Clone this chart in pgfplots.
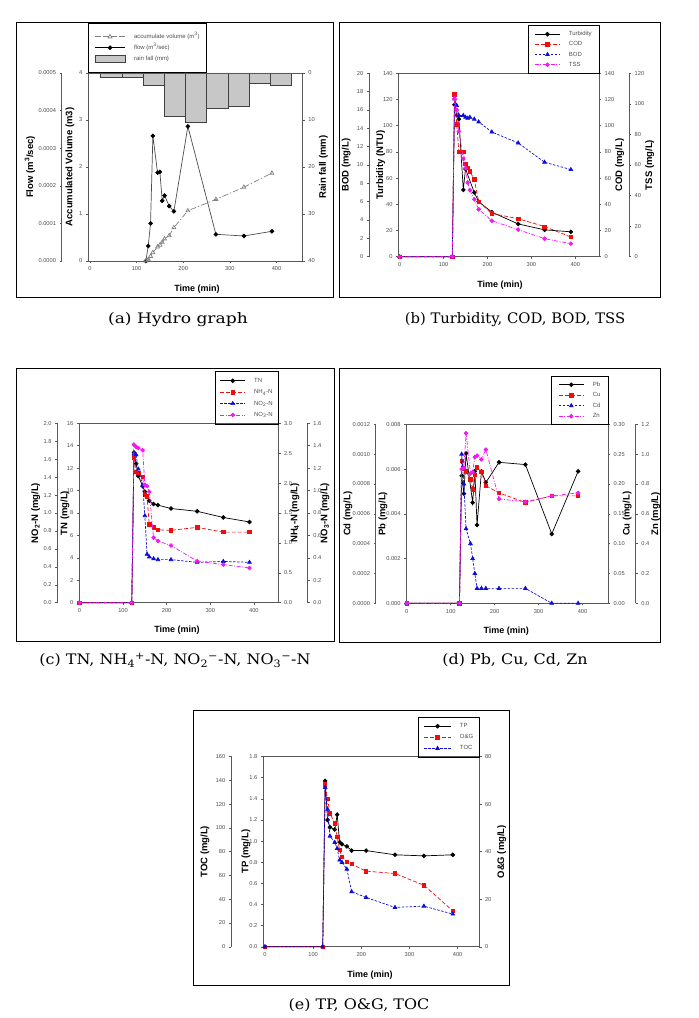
\documentclass[border=0pt]{standalone}
\usepackage{pgfplots}
\pgfplotsset{compat=1.18}
\usepackage{fontspec}
\setmainfont{Liberation Sans}
\newfontfamily\capfont{DejaVu Serif}
\definecolor{axc}{gray}{0.35}
\definecolor{tlc}{gray}{0.3}
\definecolor{mblue}{rgb}{0.05,0.05,0.85}
\definecolor{mred}{rgb}{0.95,0.05,0.05}
\definecolor{mmag}{rgb}{0.95,0.1,0.95}
\definecolor{barg}{gray}{0.78}
\pgfplotsset{
 base/.style={scale only axis, anchor=south west, clip=false,
   tick align=outside, major tick length=2.2pt,
   every tick/.style={axc, line width=0.5pt},
   axis line style={axc, line width=0.6pt},
   tick label style={font=\fontsize{5.7}{6.5}\selectfont, text=tlc},
   /pgf/number format/assume math mode=true,
   scaled ticks=false},
 mainax/.style={base, xtick pos=left, ytick pos=left, xtick={0,100,200,300,400}},
 over/.style={base, hide axis},
 farleft/.style={base, width=10pt, xmin=0, xmax=1, axis x line=none, axis y line*=left, xtick=\empty},
 farright/.style={base, anchor=south east, width=10pt, xmin=0, xmax=1, axis x line=none, axis y line*=right, xtick=\empty},
 rightax/.style={base, axis x line=none, axis y line*=right, xtick=\empty},
 sblack/.style={black, line width=0.7pt, mark=*, mark size=1.9pt},
 sred/.style={mred, line width=0.7pt, dash pattern=on 4pt off 2pt, mark=square*, mark size=1.7pt, mark options={solid}},
 sblue/.style={mblue, line width=0.7pt, dash pattern=on 2.5pt off 1.5pt, mark=triangle*, mark size=2.1pt, mark options={solid}},
 smag/.style={mmag, line width=0.7pt, dash pattern=on 4pt off 1.5pt on 1pt off 1.5pt, mark=*, mark size=1.9pt, mark options={solid}},
 legax/.style={over, ymin=0, ymax=1, legend cell align=left,
   legend style={font=\fontsize{6}{7}\selectfont, text=tlc, draw=none, fill=none,
     anchor=center, inner xsep=0pt, inner ysep=0pt, row sep=#1,
     nodes={inner sep=0.6pt, text height=4.4pt, text depth=1.3pt},
     /tikz/every odd column/.append style={column sep=8pt}},
   legend image code/.code={\draw[mark repeat=2,mark phase=2,##1] plot coordinates {(0pt,0pt)(12.5pt,0pt)(25pt,0pt)};}},
 pa/.style={at={(88pt,757pt)}, width=214.7pt, height=188pt, xmin=-4, xmax=456},
 pb/.style={at={(398.3pt,761.3pt)}, width=200.7pt, height=183.4pt, xmin=-3, xmax=454},
 pc/.style={at={(79pt,415.3pt)}, width=199.3pt, height=179.4pt, xmin=-1, xmax=456},
 pd/.style={at={(406.3pt,414.7pt)}, width=201.7pt, height=179pt, xmin=-1, xmax=458},
 pe/.style={at={(263pt,71.2pt)}, width=216.3pt, height=190.3pt, xmin=-4, xmax=445},
}
\tikzset{
 ylab/.style={font=\fontsize{9.5}{11}\selectfont\bfseries, rotate=90},
 xlab/.style={font=\fontsize{9}{11}\selectfont\bfseries},
 mycap/.style={font=\capfont\fontsize{14.5}{16}\selectfont},
 frm/.style={black, line width=0.8pt},
 lbox/.style={black, line width=0.6pt},
}
\begin{document}
\begin{tikzpicture}
\path[use as bounding box] (0pt,0pt) rectangle (699pt,1018pt);
% ================= (a) =================
\draw[frm] (16pt,721pt) rectangle (333pt,995.3pt);
\begin{axis}[rightax, pa, ymin=0, ymax=40, y dir=reverse, ytick={0,10,20,30,40}]
\addplot[ybar, bar width=45.5, fill=barg, draw=black!75, line width=0.5pt] coordinates {(46,1.0)(91.5,1.0)(137,2.7)(182,9.1)(227.5,10.5)(273,7.5)(318.5,7.1)(364,2.1)(409.5,2.7)};
\end{axis}
\begin{axis}[farleft, at={(61.7pt,757pt)}, height=188pt, ymin=0, ymax=0.0005, ytick={0,0.0001,0.0002,0.0003,0.0004,0.0005}, yticklabels={0.0000,0.0001,0.0002,0.0003,0.0004,0.0005}]
\end{axis}
\begin{axis}[over, pa, ymin=0, ymax=0.0005]
\addplot[gray!60!black, line width=0.7pt, mark=*, mark size=1.9pt, mark options={black}] coordinates {(120,0)(125,0.00004)(130,0.0001)(135,0.000333)(145,0.000235)(150,0.000237)(155,0.00016)(160,0.000174)(170,0.000146)(180,0.000132)(210,0.000358)(270,0.000071)(330,0.0000665)(390,0.000079)};
\end{axis}
\begin{axis}[mainax, pa, ymin=0, ymax=4, ytick={0,1,2,3,4}]
\addplot[gray, line width=0.7pt, dash pattern=on 6pt off 2pt on 1.5pt off 2pt, mark=triangle, mark size=2.3pt, mark options={solid, gray}] coordinates {(120,0)(125,0.03)(130,0.1)(135,0.18)(145,0.3)(150,0.34)(155,0.4)(160,0.47)(170,0.54)(180,0.71)(210,1.07)(270,1.31)(330,1.57)(390,1.87)};
\end{axis}
\draw[lbox] (88.3pt,945.3pt) rectangle (206.7pt,994.7pt);
\begin{axis}[legax=4pt, pa, legend style={at={(0.277,1.133)}},
  legend image code/.code={\draw[mark repeat=2,mark phase=2,#1] plot coordinates {(0pt,0pt)(15pt,0pt)(30pt,0pt)};}]
\addlegendimage{gray, line width=0.7pt, dash pattern=on 6pt off 2pt, mark=triangle, mark size=2.3pt, mark options={solid}}
\addlegendentry{accumulate volume (m\textsuperscript{3})}
\addlegendimage{black, line width=0.7pt, mark=*, mark size=1.9pt}
\addlegendentry{flow (m\textsuperscript{3}/sec)}
\addlegendimage{legend image code/.code={\draw[fill=barg, draw=black!75, line width=0.5pt] (0pt,-3.5pt) rectangle (30pt,3.5pt);}}
\addlegendentry{rain fall (mm)}
\end{axis}
\node[ylab] at (30pt,851pt) {Flow (m\textsuperscript{3}/sec)};
\node[ylab] at (70pt,851pt) {Accumulated Volume (m3)};
\node[ylab] at (323.3pt,851pt) {Rain fall (mm)};
\node[xlab] at (197pt,729pt) {Time (min)};
\node[mycap, xscale=1.18] at (178pt,698pt) {(a) Hydro graph};
% ================= (b) =================
\draw[frm] (339pt,721pt) rectangle (660pt,995.3pt);
\begin{axis}[mainax, pb, ymin=0, ymax=140, ytick={0,20,...,140}]
\addplot[sblack] coordinates {(0,0)(120,0)(125,116)(130,108)(135,105)(145,51)(150,67)(170,49)(180,42)(210,34)(270,25)(330,20.5)(390,19)};
\end{axis}
\begin{axis}[rightax, pb, ymin=0, ymax=140, ytick={0,20,...,140}]
\addplot[sred] coordinates {(0,0)(120,0)(125,124)(130,101)(135,80)(145,80)(150,71)(155,68)(160,65)(170,59)(180,42)(210,33)(270,29)(330,23)(390,15)};
\end{axis}
\begin{axis}[over, pb, ymin=0, ymax=20]
\addplot[sblue] coordinates {(0,0)(120,0)(125,17.2)(130,16.5)(135,15.4)(145,15.4)(150,15.2)(155,15.1)(160,15.2)(170,15.0)(180,14.7)(210,13.6)(270,12.4)(330,10.3)(390,9.5)};
\end{axis}
\begin{axis}[over, pb, ymin=0, ymax=120]
\addplot[smag] coordinates {(0,0)(120,0)(125,103.5)(130,96)(135,82)(145,64)(150,58)(155,48.5)(160,43.5)(170,37.5)(180,31)(210,23.5)(270,17.7)(330,11.8)(390,8.5)};
\end{axis}
\begin{axis}[farleft, at={(369pt,761.3pt)}, height=183.4pt, ymin=0, ymax=20, ytick={0,2,...,20}]
\end{axis}
\begin{axis}[farright, at={(629pt,761.3pt)}, height=183.4pt, ymin=0, ymax=120, ytick={0,20,...,120}]
\end{axis}
\draw[lbox] (528pt,944.7pt) rectangle (599pt,992.3pt);
\begin{axis}[legax=3.3pt, pb, legend style={at={(0.823,1.13)}}]
\addlegendimage{sblack}\addlegendentry{Turbidity}
\addlegendimage{sred}\addlegendentry{COD}
\addlegendimage{sblue}\addlegendentry{BOD}
\addlegendimage{smag}\addlegendentry{TSS}
\end{axis}
\node[ylab] at (346.3pt,853pt) {BOD (mg/L)};
\node[ylab] at (380.7pt,853pt) {Turbidity (NTU)};
\node[ylab] at (619.7pt,853pt) {COD (mg/L)};
\node[ylab] at (649.7pt,853pt) {TSS (mg/L)};
\node[xlab] at (500pt,733pt) {Time (min)};
\node[mycap, xscale=1.02] at (515pt,698pt) {(b) Turbidity, COD, BOD, TSS};
% ================= (c) =================
\draw[frm] (16pt,377pt) rectangle (334pt,650pt);
\begin{axis}[mainax, pc, ymin=0, ymax=16, ytick={0,2,...,16}]
\addplot[sblack] coordinates {(0,0)(120,0)(125,13.4)(130,12.4)(135,11.3)(145,10.4)(150,9.9)(160,9.1)(170,8.8)(180,8.7)(210,8.4)(270,8.15)(330,7.6)(390,7.2)};
\end{axis}
\begin{axis}[rightax, pc, ymin=0, ymax=3, ytick={0,0.5,1,1.5,2,2.5,3}, yticklabels={0.0,0.5,1.0,1.5,2.0,2.5,3.0}]
\addplot[sred] coordinates {(0,0)(120,0)(125,2.43)(130,2.19)(135,2.17)(145,2.1)(150,1.8)(155,1.78)(160,1.31)(170,1.26)(180,1.22)(210,1.21)(270,1.26)(330,1.18)(390,1.18)};
\end{axis}
\begin{axis}[over, pc, ymin=0, ymax=2]
\addplot[sblue] coordinates {(0,0)(120,0)(125,1.66)(130,1.65)(135,1.49)(145,1.31)(150,0.97)(155,0.54)(160,0.51)(170,0.49)(180,0.48)(210,0.48)(270,0.45)(330,0.46)(390,0.45)};
\end{axis}
\begin{axis}[over, pc, ymin=0, ymax=1.6]
\addplot[smag] coordinates {(0,0)(120,0)(125,1.41)(130,1.39)(135,1.38)(145,1.36)(150,1.05)(155,1.04)(160,0.99)(170,0.58)(180,0.55)(210,0.51)(270,0.37)(330,0.34)(390,0.31)};
\end{axis}
\begin{axis}[farleft, at={(57.3pt,415.3pt)}, height=179.4pt, ymin=0, ymax=2, ytick={0,0.2,0.4,0.6,0.8,1,1.2,1.4,1.6,1.8,2}, yticklabels={0.0,0.2,0.4,0.6,0.8,1.0,1.2,1.4,1.6,1.8,2.0}]
\end{axis}
\begin{axis}[farright, at={(307.7pt,415.3pt)}, height=179.4pt, ymin=0, ymax=1.6, ytick={0,0.2,0.4,0.6,0.8,1,1.2,1.4,1.6}, yticklabels={0.0,0.2,0.4,0.6,0.8,1.0,1.2,1.4,1.6}]
\end{axis}
\draw[lbox] (215pt,594pt) rectangle (278.3pt,646.3pt);
\begin{axis}[legax=4.5pt, pc, legend style={at={(0.841,1.1416)}}]
\addlegendimage{sblack}\addlegendentry{TN}
\addlegendimage{sred}\addlegendentry{NH\textsubscript{4}-N}
\addlegendimage{sblue}\addlegendentry{NO\textsubscript{2}-N}
\addlegendimage{smag}\addlegendentry{NO\textsubscript{3}-N}
\end{axis}
\node[ylab] at (35.7pt,505pt) {NO\textsubscript{2}-N (mg/L)};
\node[ylab] at (65pt,505pt) {TN (mg/L)};
\node[ylab] at (295pt,505pt) {NH\textsubscript{4}-N (mg/L)};
\node[ylab] at (325pt,505pt) {NO\textsubscript{3}-N (mg/L)};
\node[xlab] at (177pt,388pt) {Time (min)};
\node[mycap, xscale=1.1] at (175pt,358pt) {(c) TN, NH\textsubscript{4}\textsuperscript{+}-N, NO\textsubscript{2}\textsuperscript{−}-N, NO\textsubscript{3}\textsuperscript{−}-N};
% ================= (d) =================
\draw[frm] (339pt,376pt) rectangle (660pt,650pt);
\begin{axis}[mainax, pd, ymin=0, ymax=0.008, ytick={0,0.002,0.004,0.006,0.008}, yticklabels={0.000,0.002,0.004,0.006,0.008}]
\addplot[sblack] coordinates {(0,0)(120,0)(125,0.0057)(130,0.0049)(135,0.0067)(150,0.0045)(155,0.0059)(160,0.0035)(170,0.0059)(180,0.0054)(210,0.0063)(270,0.0062)(330,0.0031)(390,0.0059)};
\end{axis}
\begin{axis}[rightax, pd, ymin=0, ymax=0.3, ytick={0,0.05,0.1,0.15,0.2,0.25,0.3}, yticklabels={0.00,0.05,0.10,0.15,0.20,0.25,0.30}]
\addplot[sred] coordinates {(0,0)(120,0)(125,0.239)(130,0.226)(135,0.221)(145,0.208)(150,0.191)(155,0.215)(160,0.228)(170,0.22)(180,0.197)(210,0.185)(270,0.169)(330,0.18)(390,0.18)};
\end{axis}
\begin{axis}[over, pd, ymin=0, ymax=0.0012]
\addplot[sblue] coordinates {(0,0)(120,0)(125,0.001)(130,0.0008)(135,0.0005)(145,0.0004)(150,0.0003)(155,0.0002)(160,0.0001)(170,0.0001)(180,0.0001)(210,0.0001)(270,0.0001)(330,0)(390,0)};
\end{axis}
\begin{axis}[over, pd, ymin=0, ymax=1.2]
\addplot[smag] coordinates {(0,0)(120,0)(125,0.9)(130,0.91)(135,1.14)(145,0.87)(150,0.88)(155,0.98)(160,0.99)(170,0.965)(180,1.03)(210,0.7)(270,0.68)(330,0.72)(390,0.74)};
\end{axis}
\begin{axis}[farleft, at={(375.7pt,414.7pt)}, height=179pt, ymin=0, ymax=0.0012, ytick={0,0.0002,0.0004,0.0006,0.0008,0.001,0.0012}, yticklabels={0.0000,0.0002,0.0004,0.0006,0.0008,0.0010,0.0012}]
\end{axis}
\begin{axis}[farright, at={(635.7pt,414.7pt)}, height=179pt, ymin=0, ymax=1.2, ytick={0,0.2,0.4,0.6,0.8,1,1.2}, yticklabels={0.0,0.2,0.4,0.6,0.8,1.0,1.2}]
\end{axis}
\draw[lbox] (551.3pt,593.7pt) rectangle (608pt,641.3pt);
\begin{axis}[legax=3.6pt, pd, legend style={at={(0.86,1.133)}}]
\addlegendimage{sblack}\addlegendentry{Pb}
\addlegendimage{sred}\addlegendentry{Cu}
\addlegendimage{sblue}\addlegendentry{Cd}
\addlegendimage{smag}\addlegendentry{Zn}
\end{axis}
\node[ylab] at (348pt,504.2pt) {Cd (mg/L)};
\node[ylab] at (383pt,504.2pt) {Pb (mg/L)};
\node[ylab] at (627.3pt,504.2pt) {Cu (mg/L)};
\node[ylab] at (655.7pt,504.2pt) {Zn (mg/L)};
\node[xlab] at (506.3pt,387pt) {Time (min)};
\node[mycap, xscale=1.1] at (515pt,358pt) {(d) Pb, Cu, Cd, Zn};
% ================= (e) =================
\draw[frm] (193pt,33pt) rectangle (509pt,308pt);
\begin{axis}[mainax, pe, ymin=0, ymax=1.8, ytick={0,0.2,0.4,0.6,0.8,1,1.2,1.4,1.6,1.8}, yticklabels={0.0,0.2,0.4,0.6,0.8,1.0,1.2,1.4,1.6,1.8}]
\addplot[sblack] coordinates {(0,0)(120,0)(125,1.57)(130,1.2)(135,1.13)(145,1.11)(150,1.25)(155,0.99)(160,0.97)(170,0.95)(180,0.91)(210,0.91)(270,0.87)(330,0.86)(390,0.87)};
\end{axis}
\begin{axis}[rightax, pe, ymin=0, ymax=80, ytick={0,20,...,80}]
\addplot[sred] coordinates {(0,0)(120,0)(125,68.3)(130,62.1)(135,56.1)(145,51.9)(150,46.3)(155,40.7)(160,37.9)(170,35.8)(180,34.8)(210,31.8)(270,30.8)(330,25.9)(390,15.1)};
\end{axis}
\begin{axis}[over, pe, ymin=0, ymax=160]
\addplot[sblue] coordinates {(0,0)(120,0)(125,134)(130,115.6)(135,93)(145,87.8)(150,82.7)(155,72.9)(160,71)(170,65.3)(180,46.3)(210,41.5)(270,33.1)(330,34.2)(390,27.5)};
\end{axis}
\begin{axis}[farleft, at={(231pt,71.2pt)}, height=190.3pt, ymin=0, ymax=160, ytick={0,20,...,160}]
\end{axis}
\draw[lbox] (418.3pt,260.7pt) rectangle (479.3pt,300.7pt);
\begin{axis}[legax=4.2pt, pe, legend style={at={(0.859,1.101)}},
  legend image code/.code={\draw[mark repeat=2,mark phase=2,#1] plot coordinates {(0pt,0pt)(13.5pt,0pt)(27pt,0pt)};}]
\addlegendimage{sblack}\addlegendentry{TP}
\addlegendimage{sred}\addlegendentry{O\&G}
\addlegendimage{sblue}\addlegendentry{TOC}
\end{axis}
\node[ylab] at (205pt,166.3pt) {TOC (mg/L)};
\node[ylab] at (246pt,166.3pt) {TP (mg/L)};
\node[ylab] at (501.7pt,166.3pt) {O\&G (mg/L)};
\node[xlab] at (370pt,43.3pt) {Time (min)};
\node[mycap, xscale=1.1] at (359pt,13pt) {(e) TP, O\&G, TOC};
\end{tikzpicture}
\end{document}
